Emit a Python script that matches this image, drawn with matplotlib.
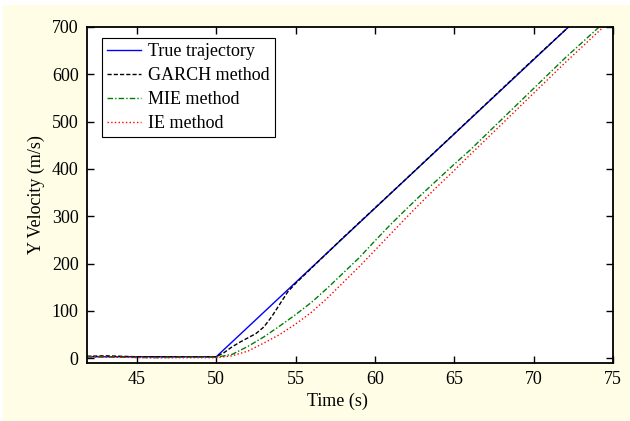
import numpy as np
import matplotlib.pyplot as plt
from matplotlib.patches import Rectangle

plt.rcParams['font.family'] = ['Liberation Serif', 'DejaVu Serif']
plt.rcParams['font.size'] = 13

# True trajectory
t_true = [41.85, 50.0, 72.2]
v_true = [3, 3, 700]

# GARCH method
t_garch = [41.85, 43, 45, 47, 49, 50.0, 50.5, 51.0, 51.5, 52.0, 52.5, 53.0, 53.5, 54.0, 54.5, 55.0,
           58, 62, 66, 70, 72.2]
v_garch = [4, 5, 3, 3, 3, 3, 12, 24, 34, 43, 52, 66, 88, 114, 140, 158,
           255, 380, 506, 632, 700]

# MIE method
t_mie = [41.85, 44, 46, 48, 50, 51, 52, 53, 54, 55, 56, 57, 58, 59, 60, 61, 62, 63, 64, 65, 66,
         68, 70, 72, 74.13]
v_mie = [3, 2, 1, 2, 2, 8, 25, 45, 68, 92, 118, 148, 180, 212, 248, 283, 316, 348, 379, 410, 440,
         505, 570, 635, 700]

# IE method
t_ie = [41.85, 44, 46, 48, 50, 51, 52, 53, 54, 55, 56, 57, 58, 59, 60, 61, 62, 63, 64, 65, 66,
        68, 70, 72, 74.4]
v_ie = [4, 2, 1, 1, 1, 5, 15, 32, 50, 72, 97, 127, 160, 193, 228, 263, 298, 332, 365, 397, 430,
        495, 560, 625, 700]

fig = plt.figure(figsize=(6.3, 4.21), dpi=100, facecolor='white')
fig.patches.append(Rectangle((3 / 630, 0), 1, 1 - 5 / 421, transform=fig.transFigure,
                             facecolor='#FFFDE6', edgecolor='none', zorder=-1))
ax = fig.add_axes([0.138, 0.138, 0.835, 0.798])

ax.plot(t_true, v_true, color='#0000FF', lw=1.0, label='True trajectory')
ax.plot(t_garch, v_garch, color='black', lw=1.0, ls='--', dashes=(3, 1.5), label='GARCH method')
ax.plot(t_mie, v_mie, color='#008000', lw=1.0, ls='-.', dashes=(4, 1.5, 1, 1.5), label='MIE method')
ax.plot(t_ie, v_ie, color='red', lw=1.0, ls=':', label='IE method')

ax.set_xlim(41.85, 75)
ax.set_ylim(-10, 700)
ax.set_xticks([45, 50, 55, 60, 65, 70, 75])
ax.set_yticks([0, 100, 200, 300, 400, 500, 600, 700])
ax.tick_params(direction='in', top=True, right=True, length=5, width=1, labelsize=13, pad=6)
for s in ax.spines.values():
    s.set_linewidth(1.3)

ax.set_xlabel('Time (s)', fontsize=13)
ax.set_ylabel('Y Velocity (m/s)', fontsize=13, labelpad=5)
ax.xaxis.set_label_coords(0.477, -0.09)

leg = ax.legend(loc='upper left', fancybox=False, edgecolor='black', framealpha=1,
                handlelength=1.9, handletextpad=0.35, borderpad=0.3, labelspacing=0.38,
                fontsize=13, borderaxespad=0, bbox_to_anchor=(0.028, 0.967))
leg.get_frame().set_linewidth(0.8)

fig.savefig('out.png', dpi=100, facecolor=fig.get_facecolor())
